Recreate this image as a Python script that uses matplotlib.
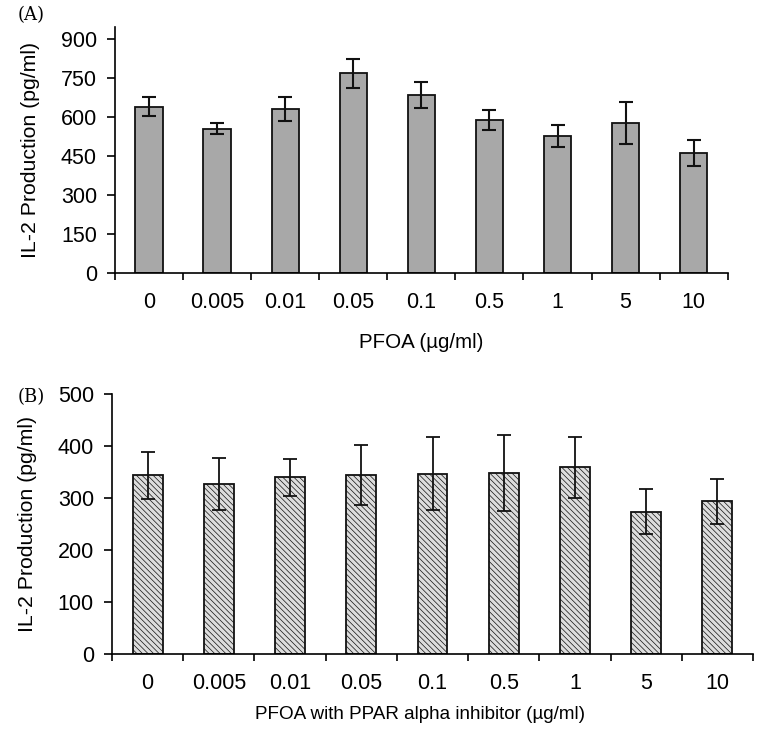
import matplotlib
matplotlib.use("Agg")
import matplotlib.pyplot as plt
import numpy as np

doses = ["0", "0.005", "0.01", "0.05", "0.1", "0.5", "1", "5", "10"]

il2_pfoa = [640, 555, 631, 768, 686, 587, 527, 577, 463]
err_pfoa = [38, 21, 46, 56, 50, 39, 42, 82, 50]

il2_inhib = [344, 327, 340, 344, 347, 349, 359, 274, 294]
err_inhib = [45, 50, 36, 58, 70, 73, 59, 43, 43]

plt.rcParams["font.family"] = ["Liberation Sans", "DejaVu Sans"]
plt.rcParams["hatch.color"] = "#b8b8b8"
plt.rcParams["hatch.linewidth"] = 0.5

fig = plt.figure(figsize=(7.64, 7.34), dpi=100)
ax_a = fig.add_axes([0.1505, 0.628, 0.802, 0.335])
ax_b = fig.add_axes([0.1466, 0.109, 0.839, 0.354])


def style(ax, ymax, yticks, xlabel, xlabel_size, xlabel_pad):
    x = np.arange(len(doses))
    ax.set_xlim(-0.5, len(doses) - 0.5)
    ax.set_ylim(0, ymax)
    ax.set_yticks(yticks)
    ax.set_xticks(x)
    ax.set_xticklabels(doses)
    ax.set_xticks(np.arange(len(doses) + 1) - 0.5, minor=True)
    ax.tick_params(axis="x", which="major", length=0, pad=14, labelsize=15.5)
    ax.tick_params(axis="x", which="minor", length=5, width=1.2, direction="out")
    ax.tick_params(axis="y", length=6, width=1.2, labelsize=15.5, direction="out", pad=7)
    for side in ("top", "right"):
        ax.spines[side].set_visible(False)
    for side in ("left", "bottom"):
        ax.spines[side].set_linewidth(1.2)
    ax.set_ylabel("IL-2 Production (pg/ml)", fontsize=15.3, labelpad=15)
    ax.set_xlabel(xlabel, fontsize=xlabel_size, labelpad=xlabel_pad)


x = np.arange(len(doses))
ax_a.bar(x, il2_pfoa, width=0.4, color="#a8a8a8", edgecolor="#111111", linewidth=1.3,
         yerr=err_pfoa, capsize=5, error_kw=dict(elinewidth=1.5, capthick=1.5, ecolor="#111111"))
style(ax_a, 945, [0, 150, 300, 450, 600, 750, 900], "PFOA (µg/ml)", 14.8, 14)

ax_b.bar(x, il2_inhib, width=0.42, color="#dddddd", edgecolor="#111111", linewidth=1.3,
         hatch="\\\\\\\\\\\\", yerr=err_inhib, capsize=5,
         error_kw=dict(elinewidth=1.3, capthick=1.3, ecolor="#111111"))
style(ax_b, 500, [0, 100, 200, 300, 400, 500], "PFOA with PPAR alpha inhibitor (µg/ml)", 13.6, 9)
ax_b.xaxis.set_label_coords(0.48, -0.2)

fig.text(0.023, 0.979, "(A)", fontsize=13, family="DejaVu Serif", va="center")
fig.text(0.023, 0.459, "(B)", fontsize=13, family="DejaVu Serif", va="center")

fig.savefig("out.png", dpi=100)
